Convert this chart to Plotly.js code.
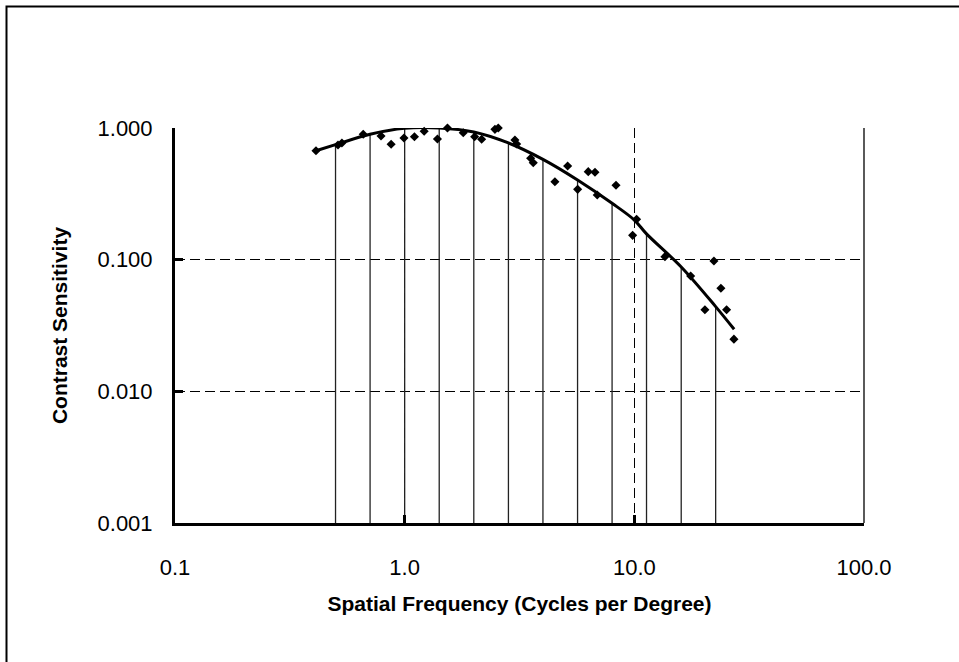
<!DOCTYPE html>
<html>
<head>
<meta charset="utf-8">
<script src="https://cdn.plot.ly/plotly-3.0.1.min.js"></script>
<style>
html,body{margin:0;padding:0;background:#fff;}
#chart{width:959px;height:662px;}
</style>
</head>
<body>
<div id="chart"></div>
<script>
// Measured data points (spatial frequency, contrast sensitivity)
const pointFreq = [0.411, 0.5125, 0.533, 0.660, 0.789, 0.873, 0.993, 1.103, 1.216, 1.389, 1.536, 1.799, 2.017, 2.164, 2.472, 2.556, 3.02, 3.073, 3.536, 3.63, 4.51, 5.124, 5.665, 6.30, 6.74, 6.895, 8.32, 10.23, 9.83, 13.59, 17.59, 22.21, 23.82, 20.29, 25.22, 27.14];
const pointSens = [0.672, 0.743, 0.769, 0.896, 0.870, 0.752, 0.840, 0.857, 0.944, 0.825, 1.0, 0.921, 0.859, 0.821, 0.977, 1.0, 0.811, 0.756, 0.589, 0.545, 0.391, 0.515, 0.342, 0.466, 0.461, 0.310, 0.367, 0.203, 0.153, 0.1054, 0.0752, 0.0977, 0.0607, 0.0417, 0.0417, 0.0249];

// Fitted curve
const curveFreq = [0.411, 0.5, 0.707, 1.0, 1.414, 2.0, 2.83, 4.0, 5.66, 8.0, 10.0, 11.3, 16.0, 22.6, 27.2];
const curveSens = [0.672, 0.747, 0.896, 0.995, 1.0, 0.933, 0.77, 0.578, 0.403, 0.268, 0.2, 0.157, 0.088, 0.044, 0.0296];

// Vertical drop lines at half-octave frequencies, up to the curve
const dropFreq = [0.5, 0.707, 1.0, 1.414, 2.0, 2.83, 4.0, 5.66, 8.0, 11.3, 16.0, 22.6];
const dropSens = [0.747, 0.896, 0.995, 1.0, 0.933, 0.77, 0.578, 0.403, 0.268, 0.157, 0.088, 0.044];

const xTickVals = [0.1, 1, 10, 100];
const xTickText = ['0.1', '1.0', '10.0', '100.0'];
const yTickVals = [0.001, 0.01, 0.1, 1];
const yTickText = ['0.001', '0.010', '0.100', '1.000'];

const yFloor = 0.001;
const dropX = [], dropY = [];
dropFreq.forEach((f, i) => { dropX.push(f, f, null); dropY.push(yFloor, dropSens[i], null); });

const FONT = '"Liberation Sans", Arial, sans-serif';

const traces = [
  {x: dropX, y: dropY, mode: 'lines', type: 'scatter', line: {color: '#222', width: 1.3}, hoverinfo: 'skip', showlegend: false},
  {x: curveFreq, y: curveSens, mode: 'lines', type: 'scatter', line: {color: '#000', width: 3, shape: 'spline', smoothing: 1}, showlegend: false, cliponaxis: false},
  {x: pointFreq, y: pointSens, mode: 'markers', type: 'scatter', marker: {symbol: 'diamond', size: 7, color: '#000'}, showlegend: false, cliponaxis: false}
];

const layout = {
  width: 959, height: 662,
  margin: {l: 175, r: 95, t: 128, b: 139},
  paper_bgcolor: '#fff', plot_bgcolor: '#fff',
  showlegend: false,
  font: {family: FONT, color: '#000', size: 22},
  xaxis: {
    type: 'log', range: [-1, 2],
    tickvals: xTickVals, ticktext: xTickText,
    showline: true, linecolor: '#000', linewidth: 3,
    ticks: 'inside', ticklen: 8, tickwidth: 3, tickcolor: '#000',
    showgrid: true, gridcolor: '#000', gridwidth: 1, griddash: '10px,5px',
    zeroline: false, ticklabelstandoff: 23,
    tickfont: {family: FONT, size: 22, color: '#000'},
    title: {text: 'Spatial Frequency (Cycles per Degree)', font: {family: FONT, size: 21, color: '#000', weight: 'bold'}, standoff: 17}
  },
  yaxis: {
    type: 'log', range: [-3, 0],
    tickvals: yTickVals, ticktext: yTickText,
    showline: true, linecolor: '#000', linewidth: 3,
    ticks: 'inside', ticklen: 8, tickwidth: 3, tickcolor: '#000',
    showgrid: true, gridcolor: '#000', gridwidth: 1, griddash: '10px,5px',
    zeroline: false, ticklabelstandoff: 15,
    tickfont: {family: FONT, size: 22, color: '#000'},
    title: {text: 'Contrast Sensitivity', font: {family: FONT, size: 21, color: '#000', weight: 'bold'}, standoff: 25}
  },
  shapes: [
    {type: 'line', xref: 'paper', yref: 'paper', x0: 1, x1: 1, y0: 0, y1: 1, line: {color: '#000', width: 1.3}},
    {type: 'rect', xref: 'paper', yref: 'paper', x0: (6.5 - 175) / 689, x1: 1.3, y0: -0.5, y1: (523 - 6.5) / 395, line: {color: '#000', width: 2}, fillcolor: 'rgba(0,0,0,0)', layer: 'above'}
  ]
};

Plotly.newPlot('chart', traces, layout, {displayModeBar: false, staticPlot: true});
</script>
</body>
</html>
